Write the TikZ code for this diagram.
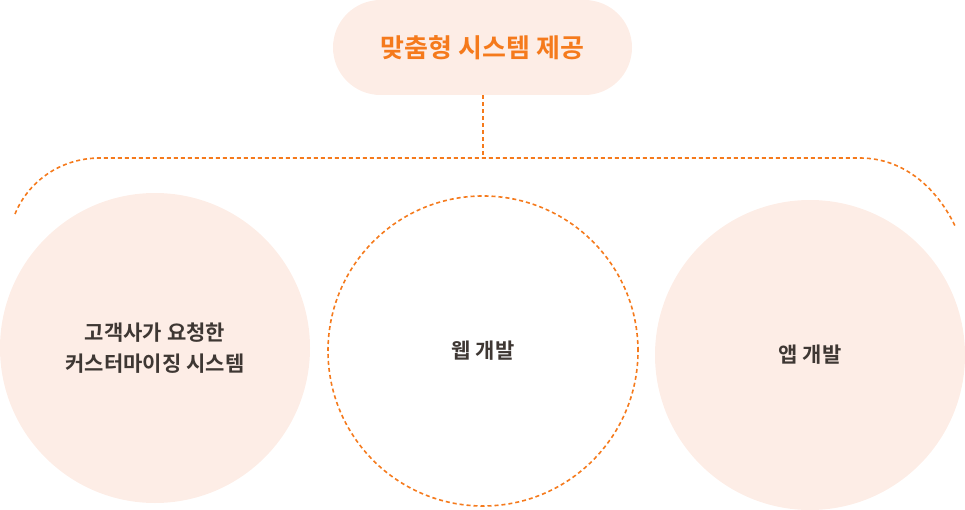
\documentclass[tikz,border=0pt]{standalone}
\usepackage{fontspec}
\setmainfont{Noto Sans CJK KR}[BoldFont={* Bold}]
\usetikzlibrary{positioning}
\definecolor{peach}{HTML}{FDEDE6}
\definecolor{deeporange}{HTML}{F57A1C}
\definecolor{inktext}{HTML}{3E3733}
\tikzset{
	dashline/.style={deeporange, line width=1.6pt, dash pattern=on 4pt off 3pt},
	bubble/.style={circle, fill=peach, minimum size=310pt, inner sep=0pt, align=center,
		text=inktext, font=\fontsize{21}{31}\selectfont\bfseries},
}
\begin{document}
\begin{tikzpicture}[x=1pt, y=-1pt]
	\useasboundingbox (0,0) rectangle (965,510);
	\node[fill=peach, rounded corners=47.5pt, minimum width=299pt, minimum height=95pt,
		text=deeporange, font=\fontsize{26}{30}\selectfont\bfseries] (title) at (482.5,47.5) {맞춤형 시스템 제공};
	\coordinate (joint) at (483,158);
	\coordinate (lend) at (15,214);
	\coordinate (rend) at (955,226);
	\draw[dashline] (title.south -| joint) -- (joint);
	\draw[dashline] (lend) .. controls (28,182) and (60,158) .. (100,158) -- (860,158)
		.. controls (905,158) and (938,190) .. (rend);
	% three service bubbles
	\node[bubble] (custom) at (155,348) {고객사가 요청한\\커스터마이징 시스템};
	\node[bubble, fill=white, draw=deeporange, line width=1.6pt, dash pattern=on 4pt off 3pt] (web) at (483,351) {웹 개발};
	\node[bubble] (app) at (810,355) {앱 개발};
\end{tikzpicture}
\end{document}
